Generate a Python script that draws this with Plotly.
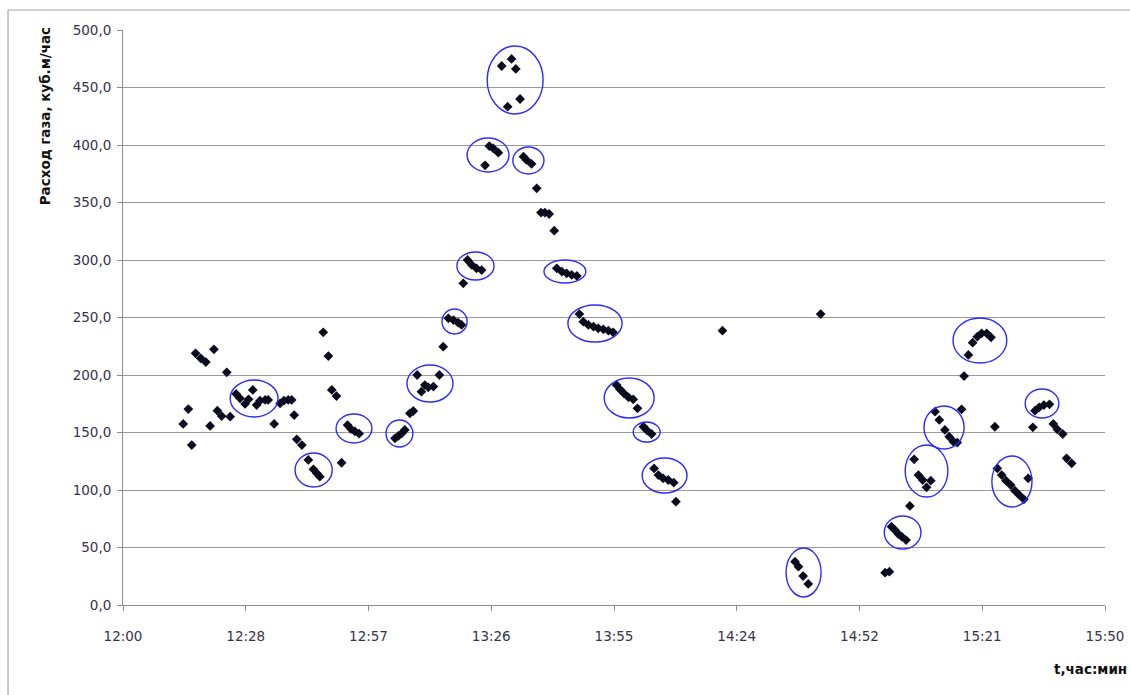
import datetime as dt
import plotly.graph_objects as go

# minutes after 12:00 and gas flow (куб.м/час)
minutes = [
    14.1, 15.3, 16.1, 17.0, 18.2, 19.4, 20.4, 21.3, 22.1, 23.1, 24.3, 25.1,
    26.5, 27.4, 28.6, 29.4, 30.4, 31.3, 32.1, 33.3, 34.0, 35.4, 36.8, 37.7,
    38.7, 39.5, 40.1, 40.7, 41.9, 43.4, 44.6, 45.4, 46.1, 46.9, 48.1, 48.9,
    50.0, 51.2, 52.6, 53.4, 54.3, 55.3,
    63.7, 64.5, 65.3, 66.0, 67.2, 68.0, 68.9, 69.9, 70.7, 71.5, 72.7, 74.1,
    75.0, 76.2, 77.4, 78.5, 79.3, 79.7, 80.7, 81.7, 82.8, 84.0, 84.8, 85.8,
    86.7, 87.9, 88.7, 90.1, 91.0, 92.0, 93.0, 93.8, 94.5, 95.7, 96.9, 97.9,
    98.8, 99.8, 101.0, 101.6, 102.8, 103.9, 105.1, 106.3, 106.9, 107.8, 109.0,
    110.2, 111.3, 112.5, 113.7, 114.8, 115.6, 116.4, 117.3, 118.4, 119.5,
    120.5, 121.9, 122.8, 123.8, 124.4, 125.4, 126.5, 127.7, 129.0, 129.5,
    140.4, 157.4, 158.2, 159.3, 160.5, 163.4, 178.5, 179.5, 180.0, 180.8,
    181.6, 182.4, 183.4, 184.3, 185.3, 186.3, 187.3, 188.2, 189.2, 190.2,
    191.2, 192.5, 193.5, 194.5, 195.4, 196.4, 197.0, 198.0, 199.0, 200.1,
    201.1, 202.3, 203.3, 204.2, 204.8, 205.8, 206.8, 207.9, 208.9, 209.9,
    211.0, 212.0, 213.1, 213.6, 214.6, 215.7, 217.0, 217.9, 218.8, 220.1,
    221.0, 222.2,
]
flow = [
    157.4, 170.4, 139.1, 218.9, 214.5, 211.3, 155.7, 222.3, 169.0, 164.3, 202.3, 163.8,
    183.5, 179.7, 174.8, 178.9, 187.0, 173.9, 177.7, 178.3, 178.3, 157.4, 175.4, 177.7,
    178.3, 178.3, 165.2, 144.1, 139.1, 126.1, 118.0, 114.5, 111.6, 237.1, 216.5, 187.0,
    181.7, 123.7, 156.5, 153.0, 151.0, 149.0,
    144.9, 147.0, 149.3, 152.2, 166.7, 168.7, 200.0, 185.5, 191.3, 189.3, 189.9, 200.0,
    224.6, 249.3, 247.8, 245.5, 243.5, 279.7, 300.0, 295.7, 292.8, 291.3, 382.3, 399.1,
    397.1, 393.3, 468.7, 433.3, 474.8, 466.1, 440.0, 389.8, 387.0, 383.5, 362.3, 341.2,
    341.2, 340.0, 325.5, 292.8, 289.8, 288.4, 287.0, 286.1, 253.0, 246.4, 243.5,
    242.0, 240.6, 239.7, 238.5, 237.1, 191.3, 187.6, 184.1, 180.6, 178.9,
    171.0, 155.0, 151.6, 148.7, 118.8, 113.0, 110.2, 108.7, 106.4, 89.8,
    238.5, 37.7, 33.3, 25.2, 18.3, 253.0, 28.1, 29.0, 68.1, 65.2,
    61.7, 59.4, 56.5, 86.1, 126.7, 113.0, 108.7, 102.3, 108.1, 168.1,
    160.9, 152.2, 146.4, 142.0, 141.2, 170.2, 199.1, 217.4, 228.1, 233.3,
    236.3, 236.3, 232.8, 155.0, 118.8, 113.0, 108.1, 104.3, 99.4, 95.7,
    91.9, 110.2, 154.5, 169.0, 171.9, 173.9, 174.5, 157.4, 152.8, 148.7,
    127.6, 123.2,
]

# highlighted groups: (start min, end min, low value, high value)
ellipses = [
    (25.1, 36.3, 163.5, 195.7), (40.3, 49.0, 102.6, 132.2), (49.9, 58.3, 140.9, 166.1),
    (61.6, 67.9, 137.4, 160.9), (66.5, 77.3, 176.5, 208.7), (74.7, 80.6, 235.7, 257.4),
    (78.2, 86.9, 282.6, 307.0), (80.6, 90.4, 376.5, 406.1), (85.3, 98.4, 427.0, 486.1),
    (91.3, 98.6, 374.8, 398.3), (98.6, 108.4, 280.0, 300.0), (104.2, 116.9, 228.7, 260.9),
    (112.7, 124.4, 162.6, 197.4), (119.5, 125.8, 141.7, 159.1), (121.6, 132.1, 97.4, 127.8),
    (155.3, 163.5, 7.0, 49.6), (178.3, 186.9, 48.7, 77.4), (183.2, 193.2, 93.9, 139.1),
    (187.6, 197.0, 135.7, 173.0), (194.4, 207.0, 210.4, 249.6), (203.5, 212.9, 85.2, 129.6),
    (211.3, 219.2, 162.6, 187.8),
]

x_ticks_min = [0, 28.75, 57.5, 86.25, 115, 143.75, 172.5, 201.25, 230]
x_tick_labels = ["12:00", "12:28", "12:57", "13:26", "13:55", "14:24", "14:52", "15:21", "15:50"]
y_ticks = [0, 50, 100, 150, 200, 250, 300, 350, 400, 450, 500]
y_tick_labels = ["0,0", "50,0", "100,0", "150,0", "200,0", "250,0", "300,0",
                 "350,0", "400,0", "450,0", "500,0"]

base = dt.datetime(2000, 1, 1, 12, 0, 0)
to_t = lambda m: base + dt.timedelta(minutes=m)
times = [to_t(m) for m in minutes]

FONT = "DejaVu Sans, Arial"
TICKC = "#34344a"

fig = go.Figure()
fig.add_trace(go.Scatter(
    x=times, y=flow, mode="markers",
    marker=dict(symbol="diamond", size=7.5, color="#0b0b1e"),
    showlegend=False, hoverinfo="x+y",
))

shapes = []
for (a, b, lo, hi) in ellipses:
    shapes.append(dict(type="circle", xref="x", yref="y",
                       x0=to_t(a), x1=to_t(b), y0=lo, y1=hi,
                       line=dict(color="#2b2bff", width=1.4), layer="above"))
# outer chart frame (left and top edges)
shapes.append(dict(type="line", xref="paper", yref="paper", x0=-0.1171, x1=-0.1171,
                   y0=-0.2, y1=1.0348, line=dict(color="#a6a6a6", width=1.2)))
shapes.append(dict(type="line", xref="paper", yref="paper", x0=-0.1171, x1=1.05,
                   y0=1.0348, y1=1.0348, line=dict(color="#a6a6a6", width=1.2)))

fig.update_layout(
    template="none",
    width=1130, height=695, autosize=False,
    margin=dict(l=123, r=25, t=30, b=90, pad=0),
    paper_bgcolor="white", plot_bgcolor="white",
    font=dict(family=FONT, size=13, color=TICKC),
    shapes=shapes,
    xaxis=dict(
        range=[to_t(0), to_t(230)], automargin=False,
        tickvals=[to_t(m) for m in x_ticks_min], ticktext=x_tick_labels,
        showgrid=False, showline=True, linecolor="#8c8c8c", linewidth=1,
        ticks="outside", ticklen=5, tickcolor="#8c8c8c",
        ticklabelstandoff=14,
        tickfont=dict(family=FONT, size=13.5, color=TICKC),
        zeroline=False,
    ),
    yaxis=dict(
        range=[0, 500], automargin=False,
        tickvals=y_ticks, ticktext=y_tick_labels,
        showgrid=True, gridcolor="#9a9a9a", gridwidth=1,
        showline=True, linecolor="#8c8c8c", linewidth=1,
        ticks="outside", ticklen=5, tickcolor="#8c8c8c",
        ticklabelstandoff=3,
        tickfont=dict(family=FONT, size=13.5, color=TICKC),
        zeroline=False,
    ),
    annotations=[
        dict(text="<b>Расход газа, куб.м/час</b>", textangle=-90,
             xref="paper", yref="paper", x=-0.0795, y=1.008,
             xanchor="center", yanchor="top", showarrow=False,
             font=dict(family=FONT, size=13.5, color="#111111")),
        dict(text="<b>t,час:мин</b>",
             xref="paper", yref="paper", x=1.024, y=-0.112,
             xanchor="right", yanchor="middle", showarrow=False,
             font=dict(family=FONT, size=13.5, color="#111111")),
    ],
)

fig.write_html("out.html", config={"displayModeBar": False},
               post_script="document.body.style.margin='0';document.body.style.overflow='hidden';")
